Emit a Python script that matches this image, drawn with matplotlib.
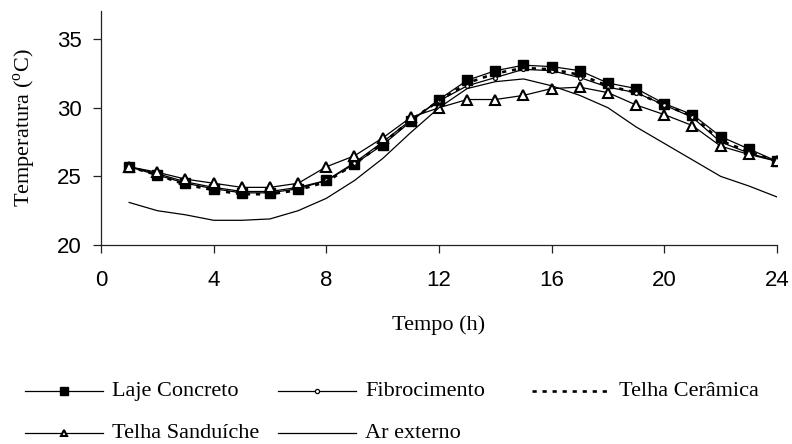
import matplotlib
matplotlib.use('Agg')
import matplotlib.pyplot as plt
from matplotlib.lines import Line2D

# hourly temperatures (degC)
hours = list(range(1, 25))
laje = [25.7, 25.1, 24.5, 24.1, 23.8, 23.8, 24.1, 24.7, 25.9, 27.3, 29.0, 30.6,
        32.0, 32.7, 33.1, 33.0, 32.7, 31.8, 31.4, 30.3, 29.5, 27.9, 27.0, 26.1]
fibro = [25.7, 25.2, 24.6, 24.2, 23.9, 23.9, 24.2, 24.7, 26.0, 27.5, 29.1, 30.5,
         31.6, 32.2, 32.8, 32.7, 32.2, 31.5, 31.1, 30.2, 29.3, 27.5, 26.7, 26.1]
ceramica = [25.7, 25.1, 24.4, 24.0, 23.7, 23.7, 24.0, 24.6, 25.9, 27.4, 29.1, 30.5,
            31.8, 32.5, 32.9, 32.8, 32.4, 31.6, 31.1, 30.2, 29.4, 27.6, 26.8, 26.1]
sanduiche = [25.7, 25.3, 24.8, 24.5, 24.2, 24.2, 24.5, 25.7, 26.5, 27.8, 29.3, 30.0,
             30.6, 30.6, 30.9, 31.4, 31.5, 31.1, 30.2, 29.5, 28.7, 27.2, 26.6, 26.1]
ar_externo = [23.1, 22.5, 22.2, 21.8, 21.8, 21.9, 22.5, 23.4, 24.7, 26.3, 28.2, 30.0,
              31.4, 31.9, 32.1, 31.6, 30.9, 30.0, 28.6, 27.4, 26.2, 25.0, 24.3, 23.5]

labels = ['Laje Concreto', 'Fibrocimento', 'Telha Cerâmica', 'Telha Sanduíche', 'Ar externo']
xticks = [0, 4, 8, 12, 16, 20, 24]
yticks = [20, 25, 30, 35]

serif = 'Liberation Serif'
plt.rcParams['mathtext.fontset'] = 'custom'
plt.rcParams['mathtext.rm'] = serif

W, H = 792, 444
fig = plt.figure(figsize=(W / 100, H / 100), dpi=100)
ax = fig.add_axes([101 / W, 1 - 245 / H, 676 / W, 234 / H])

styles = [
    dict(color='black', lw=0.9, marker='s', ms=6.5, mfc='black', mec='black'),
    dict(color='black', lw=0.9, marker='o', ms=2.8, mfc='white', mec='black', mew=0.9),
    dict(color='black', lw=1.9, ls=(0, (1.6, 2.2))),
    dict(color='black', lw=0.9, marker='^', ms=6.5, mfc='white', mec='black', mew=1.5),
    dict(color='black', lw=0.9),
]
series = [laje, fibro, ceramica, sanduiche, ar_externo]
for vals, st in zip(series, styles):
    ax.plot(hours, vals, **st)

ax.set_xlim(0, 24)
ax.set_ylim(20, 37.05)
ax.set_xticks(xticks)
ax.set_yticks(yticks)
for s in ['top', 'right']:
    ax.spines[s].set_visible(False)
for s in ['left', 'bottom']:
    ax.spines[s].set_color('#222222')
    ax.spines[s].set_linewidth(0.9)
ax.tick_params(axis='both', direction='out', length=6, width=0.9, color='#222222',
               labelsize=16)
ax.tick_params(axis='x', pad=12)
ax.tick_params(axis='y', pad=8)
for t in ax.get_xticklabels() + ax.get_yticklabels():
    t.set_fontfamily('Liberation Sans')

fig.text(25 / W, 1 - 128 / H, 'Temperatura ($^{\\rm o}$C)', rotation=90, ha='center',
         va='center', fontsize=16, family=serif)
fig.text(439 / W, 1 - 325 / H, 'Tempo (h)', ha='center', va='center', fontsize=16,
         family=serif)

# legend, drawn by hand to match the column layout
leg_pos = [(25, 391), (278, 391), (532, 391), (25, 433), (278, 433)]
leg_marker_size = [6, 3, None, 4.5, None]
for (px, py), lab, st, msz in zip(leg_pos, labels, styles, leg_marker_size):
    st = dict(st)
    if msz is not None:
        st['ms'] = msz
    st['markevery'] = [1]
    yf = 1 - py / H
    ln = Line2D([px / W, (px + 39) / W, (px + 78) / W], [yf, yf, yf],
                transform=fig.transFigure, **st)
    fig.add_artist(ln)
    fig.text((px + 87) / W, yf, lab, ha='left', va='center', fontsize=16, family=serif)

fig.savefig('out.png', dpi=100)
